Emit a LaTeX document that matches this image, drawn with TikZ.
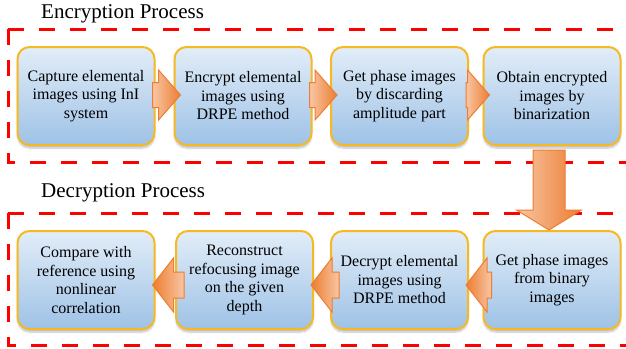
\documentclass[tikz,border=0pt]{standalone}
\usepackage{fontspec}
\setmainfont{Liberation Serif}
\newfontfamily\boxfont{Liberation Serif}
\usetikzlibrary{calc,shadows.blur}
\definecolor{boxedge}{HTML}{F7B922}
\definecolor{boxtop}{HTML}{E2EDF8}
\definecolor{boxbot}{HTML}{9EC2E6}
\definecolor{arrdark}{HTML}{ED7D31}
\definecolor{arrlight}{HTML}{F8C6A4}
\definecolor{dashred}{HTML}{FF0000}
\tikzset{
  stepbox/.style={draw=boxedge, line width=2pt, rounded corners=12pt,
    top color=boxtop, bottom color=boxbot, minimum width=137pt,
    minimum height=98pt, inner sep=0pt, align=center,
    font=\boxfont\fontsize{16}{18.5}\selectfont,
    blur shadow={shadow xshift=0pt, shadow yshift=-3pt, shadow blur steps=6, shadow opacity=25}},
  procframe/.style={draw=dashred, line width=3pt, dash pattern=on 16pt off 15pt},
  title/.style={anchor=base west, inner sep=0pt, font=\boxfont\fontsize{21}{24}\selectfont},
  blockarr/.style={draw=arrdark, line width=1pt, line join=miter},
}
\begin{document}
\begin{tikzpicture}[x=1pt,y=-1pt]
\useasboundingbox (0,0) rectangle (626,348);
\clip (0,0) rectangle (626,348);
% titles
\node[title] (t1) at (41,18.5) {Encryption Process};
\node[title] (t2) at (41,197) {Decryption Process};
% dashed frames
\coordinate (f1) at (8,29);
\coordinate (f2) at (8,213);
\draw[procframe] (f1) -- (650,29);
\draw[procframe] (f1) -- (8,162) -- (650,162);
\draw[procframe] (f2) -- (650,213);
\draw[procframe] (f2) -- (8,345) -- (650,345);
% encryption boxes
\node[stepbox] (e1) at (86,96) {Capture elemental\\images using InI\\system};
\node[stepbox] (e2) at (243,96) {Encrypt elemental\\images using\\DRPE method};
\node[stepbox] (e3) at (399.5,96) {Get phase images\\by discarding\\amplitude part};
\node[stepbox] (e4) at (552,96) {Obtain encrypted\\images by\\binarization};
% decryption boxes
\node[stepbox] (d1) at (86,280) {Compare with\\reference using\\nonlinear\\correlation};
\node[stepbox] (d2) at (244.5,280) {Reconstruct\\refocusing image\\on the given\\depth};
\node[stepbox] (d3) at (399.5,280) {Decrypt elemental\\images using\\DRPE method};
\node[stepbox] (d4) at (552,280) {Get phase images\\from binary\\images};
% right-pointing arrows (encryption)
\foreach \a/\b in {e1/e2,e2/e3,e3/e4}{
  \coordinate (s) at ($(\a.east)+(-3,-1)$);
  \coordinate (t) at ($(\b.west)+(7,-1)$);
  \draw[blockarr, left color=arrlight, right color=arrdark]
    ($(s)+(0,-12.5)$) -- ($(t)+(-22,-12.5)$) -- ($(t)+(-22,-25)$) -- (t)
    -- ($(t)+(-22,25)$) -- ($(t)+(-22,12.5)$) -- ($(s)+(0,12.5)$) -- cycle;
}
% left-pointing arrows (decryption)
\foreach \a/\b in {d4/d3,d3/d2,d2/d1}{
  \coordinate (s) at ($(\a.west)+(9,5)$);
  \coordinate (t) at ($(\b.east)+(-3,5)$);
  \draw[blockarr, left color=arrdark, right color=arrlight]
    ($(s)+(0,-13)$) -- ($(t)+(21,-13)$) -- ($(t)+(21,-27)$) -- (t)
    -- ($(t)+(21,27)$) -- ($(t)+(21,13)$) -- ($(s)+(0,13)$) -- cycle;
}
% down arrow
\coordinate (ds) at ($(e4.south)+(-3,4)$);
\coordinate (dt) at ($(d4.north)+(-3,0)$);
\draw[blockarr, left color=arrlight, right color=arrdark]
  ($(ds)+(-16,0)$) -- ($(dt)+(-16,-20)$) -- ($(dt)+(-32.5,-20)$) -- (dt)
  -- ($(dt)+(32.5,-20)$) -- ($(dt)+(16,-20)$) -- ($(ds)+(16,0)$) -- cycle;
\end{tikzpicture}
\end{document}
